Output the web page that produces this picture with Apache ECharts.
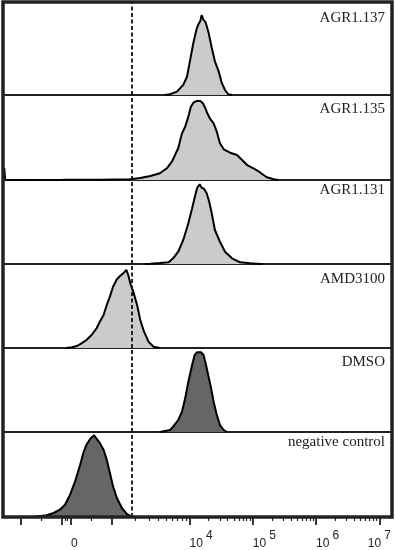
<!DOCTYPE html>
<html>
<head>
<meta charset="utf-8">
<script src="https://cdn.jsdelivr.net/npm/echarts@6/dist/echarts.min.js"></script>
<style>
  html, body { margin: 0; padding: 0; background: #fff; }
  #chart { width: 395px; height: 550px; }
</style>
</head>
<body>
<div id="chart"></div>
<script>
// ---- data (x in display decades: 4 = 10^4, 5 = 10^5 ...; y = % of panel max) ----
const panelNames = ['AGR1.137', 'AGR1.135', 'AGR1.131', 'AMD3100', 'DMSO', 'negative control'];
const gateX = 3.09;

const agr137 = [[3.61,0],[3.69,0.8],[3.80,3.6],[3.90,10.9],[3.96,19.9],[4.01,38.0],[4.06,56.2],[4.11,70.7],[4.14,76.1],[4.17,79.7],[4.19,85.9],[4.22,80.8],[4.25,78.6],[4.27,74.2],[4.30,67.1],[4.35,50.8],[4.40,36.2],[4.46,25.3],[4.51,12.7],[4.56,5.4],[4.61,0.8],[4.67,0]];
const agr135 = [[1.06,0],[1.07,14],[1.085,0],[2.0,0.2],[2.6,0.4],[3.06,0.8],[3.22,2.4],[3.38,4.7],[3.53,7.9],[3.64,13.8],[3.72,21.5],[3.77,29.4],[3.82,37.3],[3.88,54.9],[3.93,62.7],[3.98,74.5],[4.02,86.2],[4.06,90.9],[4.11,92.9],[4.17,92.9],[4.21,90.2],[4.25,84.4],[4.28,78.5],[4.32,72.6],[4.38,66.7],[4.43,56.8],[4.48,43.2],[4.54,36.1],[4.64,32.1],[4.75,29.4],[4.83,23.5],[4.91,17.6],[5.01,13.8],[5.12,8.6],[5.22,3.2],[5.33,0.8],[5.40,0]];
const agr131 = [[3.30,0],[3.38,0.4],[3.53,1.2],[3.67,2.0],[3.74,6.8],[3.82,14.6],[3.90,28.6],[3.98,48.5],[4.04,66.3],[4.09,82.1],[4.12,90.8],[4.16,94.9],[4.19,90.8],[4.23,89.3],[4.27,84.2],[4.31,74.2],[4.35,60.4],[4.40,40.5],[4.48,26.5],[4.56,14.6],[4.67,6.8],[4.80,2.0],[4.96,0.8],[5.06,0.4],[5.15,0]];
const amd3100 = [[2.05,0],[2.14,0.8],[2.22,2.4],[2.29,5.6],[2.37,9.5],[2.45,15.5],[2.53,23.5],[2.58,31.3],[2.64,39.3],[2.69,51.2],[2.74,61.1],[2.79,73.0],[2.85,81.8],[2.90,85.7],[2.95,88.9],[3.00,92.9],[3.03,86.9],[3.07,75.0],[3.11,67.0],[3.17,51.2],[3.22,33.3],[3.28,19.4],[3.35,7.5],[3.43,1.5],[3.53,0]];
const dmso = [[3.53,0],[3.69,2.4],[3.74,6.3],[3.82,14.3],[3.88,24.2],[3.93,40.1],[3.98,59.9],[4.04,79.8],[4.08,91.7],[4.12,94.9],[4.18,94.9],[4.22,91.7],[4.26,79.8],[4.30,65.8],[4.34,52.0],[4.38,36.1],[4.43,20.2],[4.48,8.3],[4.54,2.4],[4.59,0]];
const negControl = [[1.45,0],[1.53,0.4],[1.74,2.0],[1.85,4.7],[1.95,8.6],[2.03,14.5],[2.11,26.2],[2.19,42.0],[2.27,61.5],[2.32,75.3],[2.37,85.1],[2.44,92.9],[2.49,96.1],[2.54,91.0],[2.58,87.1],[2.64,79.2],[2.69,67.5],[2.74,51.8],[2.79,36.1],[2.85,22.4],[2.93,10.6],[3.01,3.5],[3.09,0.4],[3.14,0]];

const panelData = [agr137, agr135, agr131, amd3100, dmso, negControl];
const panelDark = [false, false, false, false, true, true];

// axis ticks / labels
const majorTicks = [1.334, 1.983, 2.125, 2.774, 4, 5, 6, 7];
const labelValues = [2.125, 4, 5, 6, 7];
const labelBase = ['0', '10', '10', '10', '10'];
const labelExp = ['', '4', '5', '6', '7'];

// ---- layout ----
const xMin = 1.05, xMax = 7.2;
const panelTop = [2, 95, 180, 264, 348, 432];
const panelBottom = [95, 180, 264, 348, 432, 517];
const labelTop = [11, 102, 183, 272, 355, 435];

// minor ticks: logarithmic subdivisions of each decade
const minorTicks = [1.662, 2.03, 2.07, 2.453];
for (let k = 2; k <= 9; k++) minorTicks.push(2.774 + (4 - 2.774) * Math.log10(k));
for (let d = 4; d <= 6; d++) for (let k = 2; k <= 9; k++) minorTicks.push(d + Math.log10(k));

const grids = [], xAxes = [], yAxes = [], series = [], titles = [];
panelNames.forEach((name, i) => {
  grids.push({ left: 3, right: 3, top: panelTop[i], height: panelBottom[i] - panelTop[i],
    show: true, borderColor: '#222', borderWidth: 2, backgroundColor: 'transparent' });
  const last = i === panelNames.length - 1;
  xAxes.push({
    type: 'value', gridIndex: i, min: xMin, max: xMax,
    axisLine: { show: false }, splitLine: { show: false },
    axisTick: last ? { show: true, inside: false, length: 8, customValues: majorTicks,
      lineStyle: { color: '#222', width: 1.8 } } : { show: false },
    axisLabel: last ? {
      show: true, customValues: labelValues, align: 'left', alignMaxLabel: 'center', margin: 13,
      formatter: function (v) {
        let best = 0;
        labelValues.forEach((lv, j) => { if (Math.abs(lv - v) < Math.abs(labelValues[best] - v)) best = j; });
        return '{n|' + labelBase[best] + '}{s|' + (labelExp[best] || ' ') + '}';
      },
      rich: {
        n: { fontFamily: 'Liberation Sans', fontSize: 12, color: '#222', lineHeight: 28, verticalAlign: 'middle' },
        s: { fontFamily: 'Liberation Sans', fontSize: 12, color: '#222', lineHeight: 12, verticalAlign: 'top', padding: [0, 0, 0, 3] }
      }
    } : { show: false }
  });
  yAxes.push({ type: 'value', gridIndex: i, min: 0, max: 100, show: false });
  titles.push({ text: name, right: 10, top: labelTop[i], padding: 0,
    textStyle: { fontFamily: 'Liberation Serif', fontSize: 15, fontWeight: 'normal', color: '#222' } });
  series.push({
    type: 'line', xAxisIndex: i, yAxisIndex: i, data: panelData[i],
    symbol: 'none', showSymbol: false, silent: true,
    lineStyle: { color: '#000', width: 2 },
    areaStyle: { color: panelDark[i] ? '#666666' : '#cbcbcb', opacity: 1 },
    markLine: { symbol: 'none', silent: true, label: { show: false }, animation: false,
      lineStyle: { type: [4, 2.5], color: '#111', width: 1.8 },
      data: [{ xAxis: gateX }] }
  });
});
// minor tick axis on the bottom panel
xAxes.push({
  type: 'value', gridIndex: 5, min: xMin, max: xMax, position: 'bottom',
  axisLine: { show: false }, splitLine: { show: false }, axisLabel: { show: false },
  axisTick: { show: true, inside: false, length: 4, customValues: minorTicks,
    lineStyle: { color: '#222', width: 1.2 } }
});

const chart = echarts.init(document.getElementById('chart'), null, { renderer: 'canvas' });
chart.setOption({
  animation: false,
  backgroundColor: '#fff',
  title: titles,
  grid: grids,
  xAxis: xAxes,
  yAxis: yAxes,
  series: series,
  graphic: [{
    type: 'rect', z: 100, silent: true,
    shape: { x: 3, y: panelTop[0], width: 389, height: panelBottom[5] - panelTop[0] },
    style: { fill: 'none', stroke: '#222', lineWidth: 3.5 }
  }]
});
</script>
</body>
</html>
